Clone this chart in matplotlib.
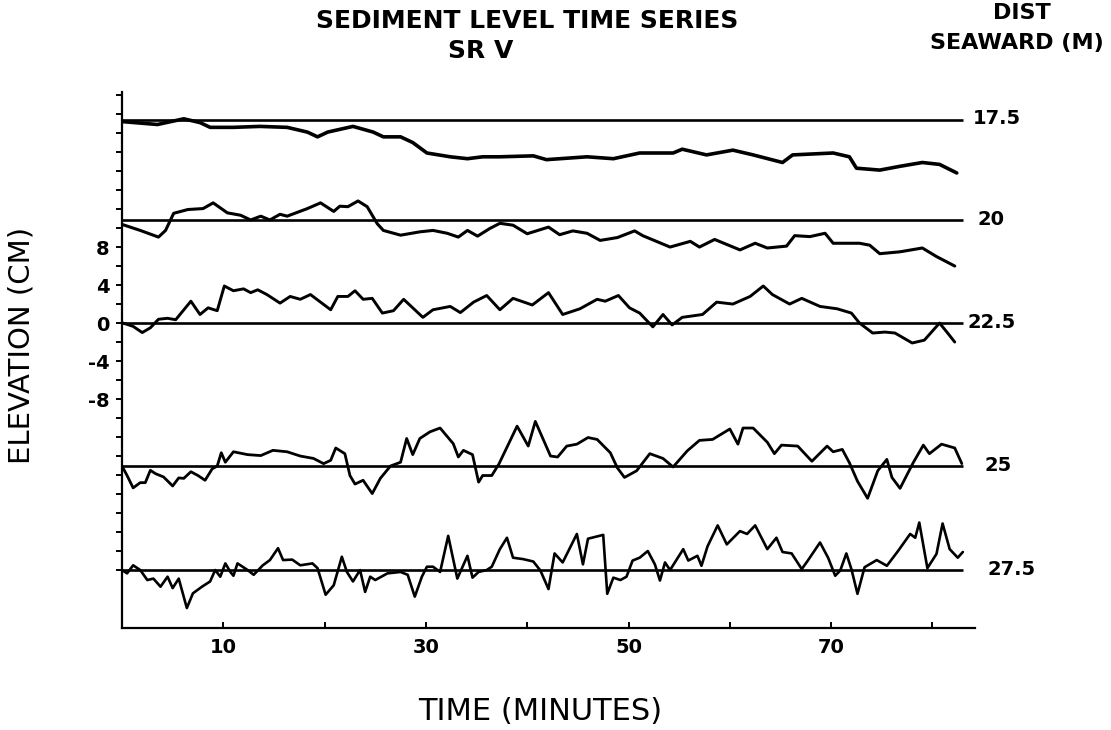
import matplotlib
matplotlib.use("Agg")
import matplotlib.pyplot as plt
import numpy as np
from matplotlib.ticker import FixedLocator, FuncFormatter

# ---- data -----------------------------------------------------------------
# distance seaward (m) of each sensor, and the vertical offset (cm) at which
# each trace is stacked on the common elevation axis
distances = ["17.5", "20", "22.5", "25", "27.5"]
baseline_cm = [21.4, 10.85, 0.0, -15.05, -26.0]

# sediment level (cm, relative to each trace's baseline) vs time (minutes)
t_175 = [0.1, 3.5, 6.1, 7.7, 8.7, 11.0, 13.6, 16.3, 18.3, 19.3, 20.3, 22.8,
         24.8, 25.8, 27.5, 28.7, 30.1, 32.4, 34.1, 35.6, 37.3, 40.6, 41.9,
         45.9, 48.5, 51.1, 54.4, 55.3, 57.7, 60.3, 62.3, 65.2, 66.2, 70.2,
         71.8, 72.5, 74.8, 76.8, 79.0, 80.7, 82.4]
e_175 = [-0.2, -0.5, 0.1, -0.3, -0.8, -0.8, -0.7, -0.8, -1.3, -1.8, -1.3, -0.7,
         -1.3, -1.8, -1.8, -2.4, -3.5, -3.9, -4.1, -3.9, -3.9, -3.8, -4.2,
         -3.9, -4.1, -3.5, -3.5, -3.1, -3.7, -3.2, -3.7, -4.5, -3.7, -3.5,
         -3.9, -5.1, -5.3, -4.9, -4.5, -4.7, -5.6]

t_20 = [0.1, 1.8, 3.6, 4.3, 5.1, 6.5, 8.0, 9.0, 10.4, 11.7, 12.7, 13.7, 14.6,
        15.6, 16.3, 18.3, 19.6, 20.9, 21.5, 22.3, 23.3, 24.2, 25.2, 25.8,
        27.5, 29.4, 30.7, 32.1, 33.2, 34.1, 35.1, 36.3, 37.3, 38.6, 40.0,
        42.1, 43.2, 44.5, 45.9, 47.2, 48.9, 50.6, 51.4, 54.1, 56.1, 57.0,
        58.5, 61.0, 62.5, 63.7, 65.6, 66.4, 67.9, 69.4, 70.2, 72.8, 73.8,
        74.8, 76.8, 79.0, 80.4, 82.2]
e_20 = [-0.5, -1.1, -1.8, -1.1, 0.7, 1.1, 1.2, 1.8, 0.75, 0.5, 0.0, 0.4, 0.0,
        0.6, 0.4, 1.2, 1.8, 0.9, 1.45, 1.4, 2.0, 1.4, -0.4, -1.1,
        -1.6, -1.25, -1.1, -1.4, -1.8, -1.1, -1.7, -0.9, -0.35, -0.55, -1.45,
        -0.75, -1.55, -1.15, -1.4, -2.15, -1.85, -1.15, -1.65, -2.85, -2.25,
        -2.85, -2.05, -3.15, -2.45, -2.95, -2.75, -1.65, -1.75, -1.4, -2.45,
        -2.45, -2.65, -3.55, -3.35, -2.95, -3.85, -4.85]

t_225 = [0.1, 1.1, 2.0, 2.8, 3.6, 4.5, 5.3, 6.8, 7.7, 8.5, 9.4, 10.1, 11.0,
         12.0, 12.7, 13.4, 14.3, 15.6, 16.6, 17.6, 18.6, 19.6, 20.6, 21.3,
         22.3, 23.0, 23.8, 24.7, 25.7, 26.8, 27.8, 28.7, 29.7, 30.7, 32.4,
         33.4, 34.7, 36.0, 37.3, 38.6, 40.5, 42.1, 43.5, 45.2, 46.9, 47.7,
         49.0, 50.1, 51.1, 52.4, 53.4, 54.3, 55.3, 57.3, 58.7, 60.3, 62.0,
         63.3, 64.2, 65.9, 67.1, 68.9, 70.6, 72.0, 72.8, 74.1, 75.3, 76.3,
         78.0, 79.2, 80.7, 81.5, 82.2]
e_225 = [0.0, -0.35, -1.0, -0.5, 0.4, 0.5, 0.35, 2.3, 0.9, 1.6, 1.3, 3.9, 3.4,
         3.6, 3.2, 3.5, 3.0, 2.1, 2.8, 2.5, 3.0, 2.2, 1.4, 2.8,
         2.8, 3.4, 2.5, 2.6, 1.05, 1.3, 2.5, 1.6, 0.6, 1.4, 1.75,
         1.1, 2.2, 2.9, 1.4, 2.6, 1.9, 3.2, 0.9, 1.5, 2.5, 2.3,
         2.9, 1.6, 1.05, -0.4, 0.9, -0.2, 0.6, 0.9, 2.2, 2.0, 2.8,
         3.9, 3.0, 2.0, 2.6, 1.75, 1.5, 1.05, 0.0, -1.05, -0.95, -1.05,
         -2.1, -1.8, 0.0, -1.05, -2.0]

t_25 = [0.0, 0.5, 1.1, 1.8, 2.3, 2.8, 3.3, 4.1, 5.0, 5.6, 6.1, 6.8, 7.5, 8.2,
        8.9, 9.4, 9.8, 10.2, 11.0, 12.4, 13.7, 14.9, 16.3, 17.6, 18.9, 19.9,
        20.6, 21.1, 22.0, 22.5, 23.0, 23.8, 24.7, 25.5, 26.5, 27.5, 28.1,
        28.7, 29.4, 30.4, 31.4, 32.7, 33.2, 33.7, 34.6, 35.2, 35.6, 36.5,
        37.2, 39.0, 40.1, 40.8, 42.3, 43.0, 43.9, 44.9, 46.0, 46.9, 48.2,
        48.9, 49.6, 50.8, 52.1, 53.4, 54.4, 55.8, 57.0, 58.3, 60.0, 60.8,
        61.3, 62.3, 63.7, 64.4, 65.1, 66.7, 68.1, 69.6, 70.2, 71.1, 71.8,
        72.6, 73.6, 74.6, 75.5, 76.0, 76.8, 78.1, 79.1, 79.7, 80.9, 82.2, 82.9]
e_25 = [0.0, -1.0, -2.3, -1.75, -1.75, -0.45, -0.8, -1.15, -2.1, -1.25, -1.3,
        -0.6, -1.0, -1.5, -0.3, 0.0, 1.4, 0.4, 1.5, 1.2, 1.1, 1.65, 1.5, 1.05,
        0.8, 0.25, 0.6, 1.9, 1.3, -1.0, -1.9, -1.5, -2.9, -1.3, 0.0, 0.4, 2.9,
        1.2, 2.9, 3.6, 4.0, 2.35, 0.95, 1.65, 1.2, -1.7, -1.0, -1.0,
        0.2, 4.2, 2.1, 4.7, 1.05, 0.95, 2.1, 2.3, 3.0, 2.8, 1.4,
        -0.2, -1.2, -0.5, 1.3, 0.8, -0.1, 1.6, 2.7, 2.8, 3.9, 2.3,
        4.0, 4.0, 2.5, 1.3, 2.2, 2.1, 0.5, 2.1, 1.5, 1.75, 0.35,
        -1.6, -3.4, -0.5, 0.7, -1.2, -2.35, 0.35, 2.2, 1.3, 2.3, 1.9, 0.25]

t_275 = [0.0, 0.5, 1.1, 1.8, 2.5, 3.1, 3.8, 4.5, 5.0, 5.6, 6.4, 7.0, 7.9, 8.7,
         9.2, 9.7, 10.2, 10.7, 11.0, 11.4, 12.4, 13.0, 13.9, 14.6, 15.4, 15.9,
         16.8, 17.6, 18.8, 19.3, 20.1, 20.9, 21.7, 22.2, 22.8, 23.5, 24.0,
         24.5, 25.0, 26.2, 27.5, 28.2, 28.9, 29.6, 30.1, 30.7, 31.4, 32.2,
         33.1, 34.1, 34.6, 35.2, 36.0, 36.5, 37.3, 38.0, 38.6, 39.6, 40.6,
         41.3, 42.1, 42.7, 43.5, 44.9, 45.5, 46.0, 47.5, 47.9, 48.5, 49.2,
         49.8, 50.4, 51.1, 51.9, 52.6, 53.1, 53.6, 54.1, 55.4, 55.9, 56.8,
         57.2, 57.8, 58.8, 59.7, 61.0, 61.7, 62.5, 63.7, 64.6, 65.2, 66.1,
         67.1, 67.7, 68.9, 69.7, 70.4, 70.9, 71.5, 72.0, 72.6, 73.3, 74.5,
         75.5, 76.6, 77.8, 78.3, 78.7, 79.5, 80.4, 81.0, 81.7, 82.5, 83.0]
e_275 = [0.0, -0.35, 0.5, 0.0, -1.05, -0.9, -1.75, -0.7, -1.9, -0.9, -4.0,
         -2.45, -1.75, -1.2, 0.0, -0.7, 0.7, -0.2, -0.6, 0.7, 0.0, -0.5, 0.5,
         1.05, 2.3, 1.05, 1.1, 0.5, 0.7, 0.2, -2.6, -1.6, 1.4, -0.2, -1.2, 0.0,
         -2.3, -0.7, -1.05, -0.35, -0.2, -0.5, -2.8, -0.7, 0.35, 0.35, -0.2,
         3.6, -0.9, 1.5, -0.8, -0.2, 0.0, 0.35, 2.2, 3.4, 1.3, 1.15, 0.9,
         -0.05, -2.0, 1.75, 0.8, 3.8, 0.6, 3.3, 3.7, -2.5, -0.8, -1.05,
         -0.7, 1.0, 1.3, 2.0, 0.6, -1.1, 0.8, 0.0, 2.2, 1.0, 1.5,
         0.45, 2.5, 4.7, 2.7, 4.1, 3.8, 4.7, 2.2, 3.4, 1.9, 1.75,
         0.1, 1.0, 2.9, 1.3, -0.6, -0.05, 1.75, 0.1, -2.5, 0.3, 1.05,
         0.45, 2.0, 3.8, 3.4, 5.0, 0.2, 1.7, 4.9, 2.2, 1.3, 1.9]

series_t = [t_175, t_20, t_225, t_25, t_275]
series_e = [e_175, e_20, e_225, e_25, e_275]

x_ticks = [10, 20, 30, 40, 50, 60, 70, 80]
x_tick_labels = ["10", "", "30", "", "50", "", "70", ""]
y_ticks = list(range(-26, 25, 2))
y_label_values = [8, 4, 0, -4, -8]
y_label_texts = ["8", "4", "0", "-4", "-8"]

# ---- figure ---------------------------------------------------------------
W, H = 1111, 730
fig = plt.figure(figsize=(W / 100, H / 100), dpi=100)
fig.patch.set_facecolor("white")

ax_left, ax_right, ax_top, ax_bottom = 122, 975, 92, 628
ax = fig.add_axes([ax_left / W, 1 - ax_bottom / H,
                   (ax_right - ax_left) / W, (ax_bottom - ax_top) / H])
ax.set_xlim(0, 84.2)
ax.set_ylim(-32.1, -32.1 + (ax_bottom - ax_top) / 9.5)

for side in ("top", "right"):
    ax.spines[side].set_visible(False)
for side in ("left", "bottom"):
    ax.spines[side].set_linewidth(1.6)
    ax.spines[side].set_color("black")

# zero lines of each trace
ax.hlines(baseline_cm, 0, 83.0, colors="black", linewidth=1.9, zorder=2)

# the traces, each lifted onto its own baseline
widths = [2.6, 2.2, 2.1, 2.0, 1.9]
for t, e, off, lw in zip(series_t, series_e, baseline_cm, widths):
    ax.plot(t, np.asarray(e) + off, color="black", linewidth=lw,
            solid_joinstyle="round", solid_capstyle="round", zorder=3)

# distance labels at the right end of each baseline
label_dx = [0.5, 0.9, 0.0, 1.6, 1.9]
for lab, off, dx in zip(distances, baseline_cm, label_dx):
    ax.text(83.5 + dx, off + 0.1, lab, ha="left", va="center",
            fontsize=14, fontweight="bold", clip_on=False)

# axes ticks
ax.xaxis.set_major_locator(FixedLocator(x_ticks))
ax.set_xticklabels(x_tick_labels)
ax.tick_params(axis="x", direction="in", length=4.5, width=1.4, pad=7,
               labelsize=14)

ax.yaxis.set_major_locator(FixedLocator(y_ticks))
ylab = dict(zip(y_label_values, y_label_texts))
ax.yaxis.set_major_formatter(FuncFormatter(lambda v, p: ylab.get(int(round(v)), "")))
ax.tick_params(axis="y", direction="out", length=4, width=1.4, pad=5,
               labelsize=14)
for lab in ax.get_xticklabels() + ax.get_yticklabels():
    lab.set_fontweight("bold")

# titles and axis names
fig.text(527 / W, 1 - 21 / H, "SEDIMENT LEVEL TIME SERIES", ha="center",
         va="center", fontsize=18, fontweight="bold")
fig.text(481 / W, 1 - 51 / H, "SR V", ha="center", va="center",
         fontsize=18, fontweight="bold")
fig.text(1022 / W, 1 - 13 / H, "DIST", ha="center", va="center",
         fontsize=16, fontweight="bold")
fig.text(1017 / W, 1 - 43 / H, "SEAWARD (M)", ha="center", va="center",
         fontsize=16, fontweight="bold")
fig.text(22 / W, 1 - 345 / H, "ELEVATION (CM)", ha="center", va="center",
         rotation=90, fontsize=21)
fig.text(540 / W, 1 - 712 / H, "TIME (MINUTES)", ha="center", va="center",
         fontsize=22)

fig.savefig("out.png", dpi=100, facecolor="white")
